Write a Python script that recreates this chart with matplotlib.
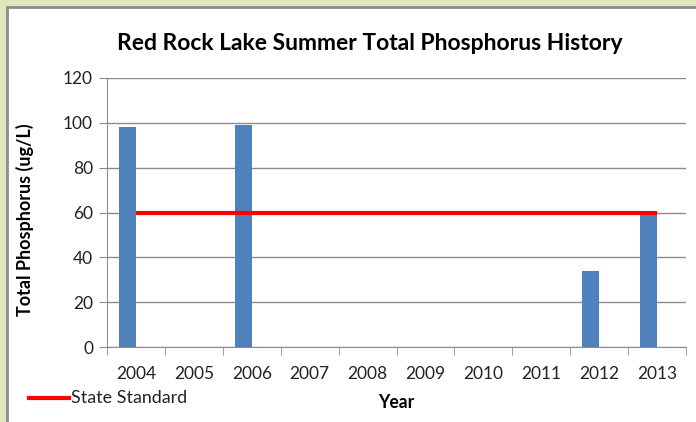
import matplotlib.pyplot as plt
import matplotlib.patches as patches
import numpy as np

years = ["2004", "2005", "2006", "2007", "2008", "2009", "2010", "2011", "2012", "2013"]
phosphorus = [98, 0, 99, 0, 0, 0, 0, 0, 34, 60]
state_standard = [60, 60, 60, 60, 60, 60, 60, 60, 60, 60]

plt.rcParams['font.family'] = ['Lato', 'DejaVu Sans']

fig = plt.figure(figsize=(6.96, 4.22), dpi=100)
fig.patch.set_facecolor('#dfe5bd')

# white chart area with a grey frame, like the pasted Excel chart
frame = patches.Rectangle((7 / 696, -0.05), 1.2, 1 - 7 / 422 + 0.05, transform=fig.transFigure,
                          facecolor='white', edgecolor='#8c8c8c', linewidth=2, zorder=-5)
fig.patches.append(frame)

ax = fig.add_axes([107 / 696, 1 - 347 / 422, (686 - 107) / 696, (347 - 78) / 422])
ax.set_facecolor('none')
ax.set_zorder(2)

x = np.arange(len(years))
w = 0.29
ax.bar(x - w / 2, phosphorus, w, color='#4f81bd', zorder=2)
ax.plot(x, state_standard, color='#ff0000', linewidth=3, zorder=3, solid_capstyle='butt')

ax.set_xlim(-0.5, len(years) - 0.5)
ax.set_ylim(0, 120)
ax.set_yticks(range(0, 121, 20))
ax.set_xticks(x)
ax.set_xticklabels(years)
ax.set_xticks(np.arange(-0.5, len(years)), minor=True)
ax.tick_params(axis='x', which='major', length=0, labelsize=12.5, pad=14, labelcolor='#222222')
ax.tick_params(axis='x', which='minor', length=6, color='#8c8c8c', direction='out')
ax.tick_params(axis='y', length=6, color='#8c8c8c', labelsize=12.5, pad=4, labelcolor='#222222')
ax.grid(axis='y', color='#8c8c8c', linewidth=1)
ax.set_axisbelow(True)
for s in ['top', 'right']:
    ax.spines[s].set_visible(False)
for s in ['left', 'bottom']:
    ax.spines[s].set_color('#8c8c8c')

fig.text(370 / 696, 1 - 44 / 422, "Red Rock Lake Summer Total Phosphorus History",
         ha='center', va='center', fontsize=16.5, fontweight='bold')
fig.text(25 / 696, 1 - 220 / 422, "Total Phosphorus (ug/L)", rotation=90,
         ha='center', va='center', fontsize=13, fontweight='bold')
fig.text(396 / 696, 1 - 403 / 422, "Year", ha='center', va='center', fontsize=12.7, fontweight='bold')

fig.add_artist(plt.Line2D([29 / 696, 69 / 696], [1 - 398 / 422, 1 - 398 / 422],
                          transform=fig.transFigure, color='#ff0000', linewidth=3))
fig.text(71 / 696, 1 - 398 / 422, "State Standard", ha='left', va='center', fontsize=12.9, color='#222222')

fig.savefig("out.png", dpi=100, facecolor=fig.get_facecolor())
